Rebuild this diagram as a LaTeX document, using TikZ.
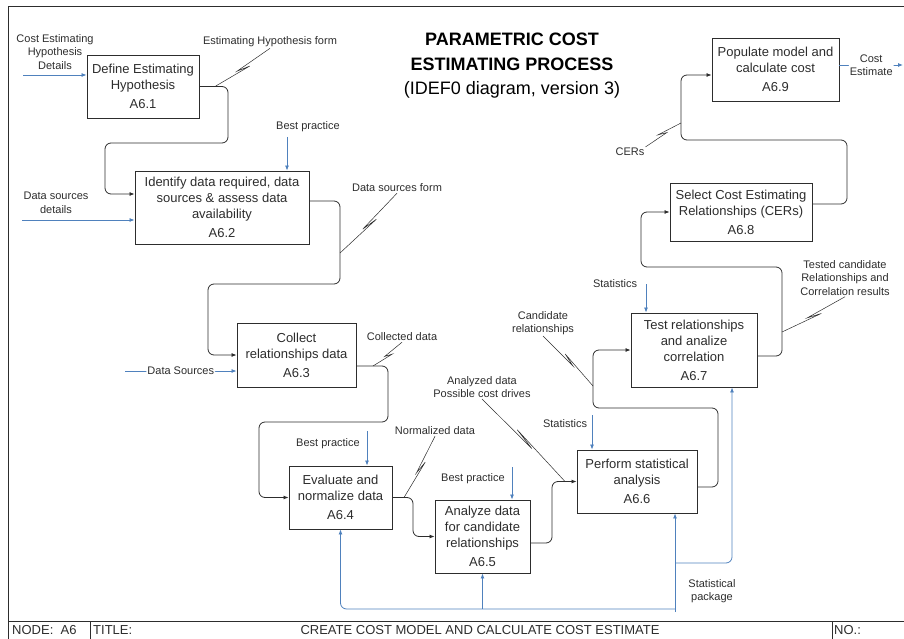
\documentclass[tikz,border=0pt]{standalone}
\usepackage{fontspec}
\setmainfont{Liberation Sans}
\usetikzlibrary{arrows.meta,calc}
\definecolor{azul}{RGB}{79,129,189}
\definecolor{tinta}{RGB}{45,45,45}
\newcommand{\quiebre}[2]{\draw[rayo] (#1) -- ($(#1)!0.6!(#2)$) -- ($($(#1)!0.4!(#2)$)!3pt!90:(#2)$) -- (#2);}

\begin{document}
\begin{tikzpicture}[x=1pt,y=-1pt,
  proceso/.style={draw=tinta, line width=0.9pt, fill=white, align=center, inner sep=2pt,
                  text=tinta, font=\fontsize{13}{16}\selectfont},
  etiqueta/.style={align=center, inner sep=1pt, text=tinta, font=\fontsize{11}{13.5}\selectfont},
  titulo/.style={align=center, text=black, font=\fontsize{18}{24.5}\selectfont},
  pie/.style={anchor=west, inner sep=0pt, text=tinta, font=\fontsize{13}{15}\selectfont},
  flujo/.style={-{Latex[length=5pt,width=4pt]}, line width=0.8pt, draw=tinta, rounded corners=6pt},
  recurso/.style={-{Latex[length=5pt,width=4pt]}, line width=0.8pt, draw=azul, rounded corners=6pt},
  rayo/.style={line width=0.5pt, draw=tinta},
  marco/.style={line width=0.9pt, draw=tinta}]
  \useasboundingbox (0,0) rectangle (904,639);
  \draw[marco] (904,6) -- (8,6) -- (8,639);
  \draw[marco] (8,621) -- (904,621);
  \draw[marco] (90,621) -- (90,639);
  \draw[marco] (832,621) -- (832,639);
  \node[pie] (nodo) at (12,630) {NODE:\ \ A6};
  \node[pie] (tit) at (93,630) {TITLE:};
  \node[pie, anchor=center] (nombre) at (480,630) {CREATE COST MODEL AND CALCULATE COST ESTIMATE};
  \node[pie] (num) at (834,630) {NO.:};
  \node[titulo] (cabecera) at (512,66)
    {\textbf{PARAMETRIC COST}\\\textbf{ESTIMATING PROCESS}\\(IDEF0 diagram, version 3)};

  \node[proceso, minimum width=112pt, minimum height=63pt] (a1) at (143,86.5)
    {Define Estimating\\Hypothesis\\[3pt]A6.1};
  \node[proceso, minimum width=174pt, minimum height=73pt] (a2) at (222,207.5)
    {Identify data required, data\\sources \& assess data\\availability\\[3pt]A6.2};
  \node[proceso, minimum width=119pt, minimum height=64pt] (a3) at (296.5,355)
    {Collect\\relationships data\\[3pt]A6.3};
  \node[proceso, minimum width=103pt, minimum height=63pt] (a4) at (340.5,497.5)
    {Evaluate and\\normalize data\\[3pt]A6.4};
  \node[proceso, minimum width=95pt, minimum height=73pt] (a5) at (482.5,536.5)
    {Analyze data\\for candidate\\relationships\\[3pt]A6.5};
  \node[proceso, minimum width=120pt, minimum height=63pt] (a6) at (637,481.5)
    {Perform statistical\\analysis\\[3pt]A6.6};
  \node[proceso, minimum width=126pt, minimum height=74pt] (a7) at (694,350)
    {Test relationships\\and analize\\correlation\\[3pt]A6.7};
  \node[proceso, minimum width=142pt, minimum height=58pt] (a8) at (741,212)
    {Select Cost Estimating\\Relationships (CERs)\\[3pt]A6.8};
  \node[proceso, minimum width=127pt, minimum height=63pt] (a9) at (775.5,69.5)
    {Populate model and\\calculate cost\\[3pt]A6.9};

  \node[etiqueta] (hipotesis) at (55,52) {Cost Estimating\\Hypothesis\\Details};
  \node[etiqueta] (fuentes) at (56,203) {Data sources\\details};
  \node[etiqueta] (formhip) at (270,42) {Estimating Hypothesis form};
  \node[etiqueta] (formfuentes) at (397,188) {Data sources form};
  \node[etiqueta] (recogidos) at (402,337) {Collected data};
  \node[etiqueta] (normalizados) at (435,431) {Normalized data};
  \node[etiqueta] (analizados) at (482,387) {Analyzed data\\Possible cost drives};
  \node[etiqueta] (candidatas) at (543,323) {Candidate\\relationships};
  \node[etiqueta] (probadas) at (845,278) {Tested candidate\\Relationships and\\Correlation results};
  \node[etiqueta] (cers) at (630,152) {CERs};
  \node[etiqueta] (bp2) at (308,127) {Best practice};
  \node[etiqueta] (bp4) at (328,444) {Best practice};
  \node[etiqueta] (bp5) at (473,479) {Best practice};
  \node[etiqueta] (est6) at (565,424) {Statistics};
  \node[etiqueta] (est7) at (615,284) {Statistics};
  \node[etiqueta] (paquete) at (712,591) {Statistical\\package};

  \coordinate (i1) at (23,75);
  \coordinate (i2) at (22,220);
  \coordinate (i3) at (125,371);
  \coordinate (fin) at (903,65);
  \coordinate (k2) at (287,137);
  \coordinate (k4) at (367,431);
  \coordinate (k5) at (512,467);
  \coordinate (k6) at (592,415);
  \coordinate (k7) at (646,284);
  \coordinate (sp) at (675,612);

  \draw[flujo] (a1.east) -- (228,86.5) -- (228,143) -- (105,143) -- (105,194) -- (a2.west |- 0,194);
  \draw[flujo] (a2.east |- 0,201) -- (340,201) -- (340,284) -- (208,284) -- (208,355) -- (a3.west);
  \draw[flujo] (a3.east |- 0,366) -- (388,366) -- (388,422) -- (259,422) -- (259,497.5) -- (a4.west);
  \draw[flujo] (a4.east) -- (413,497.5) -- (413,536.5) -- (a5.west);
  \draw[flujo] (a5.east |- 0,543) -- (552,543) -- (552,481.5) -- (a6.west);
  \draw[flujo] (a6.east |- 0,487) -- (718,487) -- (718,408) -- (593,408) -- (593,350) -- (a7.west);
  \draw[flujo] (a7.east |- 0,356) -- (782,356) -- (782,267) -- (641,267) -- (641,212) -- (a8.west);
  \draw[flujo] (a8.east |- 0,204) -- (847,204) -- (847,140) -- (681,140) -- (681,75) -- (a9.west |- 0,75);

  \draw[recurso] (i1) -- (a1.west |- i1);
  \draw[recurso] (i2) -- (a2.west |- i2);
  \draw[recurso] (i3) -- node[etiqueta, fill=white] (datos) {Data Sources} (a3.west |- i3);
  \draw[recurso] (a9.east |- fin) -- node[etiqueta, fill=white, pos=0.5] (estimado) {Cost\\Estimate} (fin);
  \draw[recurso] (k2) -- (a2.north -| k2);
  \draw[recurso] (k4) -- (a4.north -| k4);
  \draw[recurso] (k5) -- (a5.north -| k5);
  \draw[recurso] (k6) -- (a6.north -| k6);
  \draw[recurso] (k7) -- (a7.north -| k7);
  \draw[recurso] (sp) -- (a6.south -| sp);
  \draw[recurso] (sp |- 0,609) -- (a4.south |- 0,609) -- (a4.south);
  \draw[recurso] (a5.south |- 0,609) -- (a5.south);
  \draw[recurso] (sp |- 0,563) -- (732,563) -- (a7.south -| 732,0);

  \coordinate (e1) at (215,86.5);
  \coordinate (e2) at (340,253);
  \coordinate (e3) at (373,366);
  \coordinate (e4) at (404,497.5);
  \coordinate (e5) at (565,481.5);
  \coordinate (e6) at (593,386);
  \coordinate (e7) at (782,332);
  \coordinate (e8) at (681,123);
  \quiebre{formhip.south}{e1}
  \quiebre{formfuentes.south}{e2}
  \quiebre{recogidos.south}{e3}
  \quiebre{normalizados.south}{e4}
  \quiebre{analizados.south}{e5}
  \quiebre{candidatas.south}{e6}
  \quiebre{probadas.south}{e7}
  \quiebre{cers.north east}{e8}
\end{tikzpicture}
\end{document}
